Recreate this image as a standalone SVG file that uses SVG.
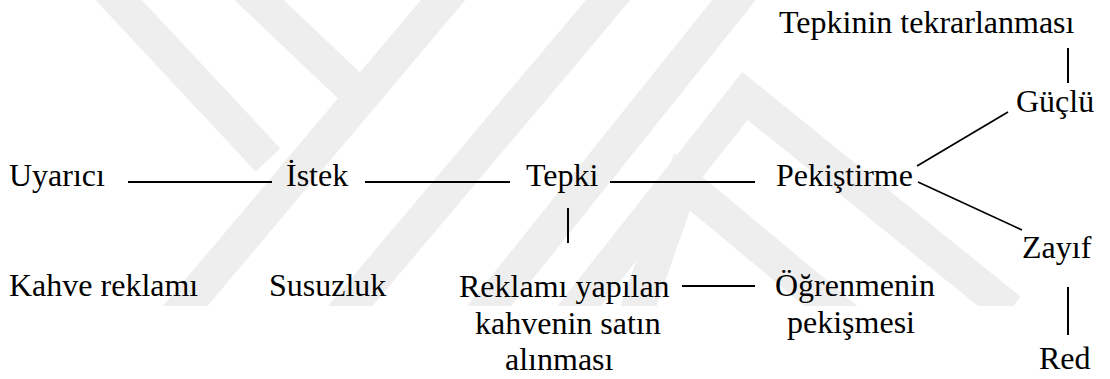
<svg xmlns="http://www.w3.org/2000/svg" width="1110" height="379" viewBox="0 0 1110 379">
  <style>
    text { font-family: 'Liberation Serif', 'Times New Roman', Times, serif; font-size: 32px; fill: #000; }
    .link { stroke: #000; stroke-width: 2; fill: none; }
    .diag { stroke: #000; stroke-width: 1.7; fill: none; }
    .band { stroke: #eeeeee; stroke-width: 34; fill: none; stroke-linejoin: miter; }
  </style>
  <defs>
    <clipPath id="wmClip">
      <rect x="0" y="0" width="1110" height="306"/>
    </clipPath>
  </defs>
  <rect width="1110" height="379" fill="#fff"/>

  <!-- background emblem -->
  <g id="emblem" clip-path="url(#wmClip)">
    <line class="band" x1="100" y1="-20" x2="268" y2="160"/>
    <line class="band" x1="165" y1="330" x2="460" y2="-20"/>
    <line class="band" x1="238" y1="-20" x2="358" y2="94"/>
    <line class="band" x1="330" y1="330" x2="625" y2="-20"/>
    <line class="band" x1="470" y1="330" x2="750" y2="-20"/>
    <polyline class="band" points="560,330 745,96 1010,310"/>
    <polyline class="band" points="630,330 682,182 860,330"/>
  </g>

  <!-- connectors -->
  <g id="connectors">
    <line class="link" x1="128" y1="182" x2="272" y2="182"/>
    <line class="link" x1="365" y1="182" x2="510" y2="182"/>
    <line class="link" x1="610" y1="182" x2="755" y2="182"/>
    <line class="link" x1="568" y1="208" x2="568" y2="243"/>
    <line class="link" x1="682" y1="286" x2="755" y2="286"/>
    <line class="diag" x1="917" y1="166" x2="1008" y2="112"/>
    <line class="diag" x1="918" y1="182" x2="1022" y2="230"/>
    <line class="link" x1="1068" y1="48" x2="1068" y2="83"/>
    <line class="link" x1="1068" y1="287" x2="1068" y2="335"/>
  </g>

  <g font-family="Liberation Serif, serif">
    <g id="uyarici"><text x="9" y="186">Uyarıcı</text></g>
    <g id="istek"><text x="286" y="186">İstek</text></g>
    <g id="tepki"><text x="526" y="186">Tepki</text></g>
    <g id="pekistirme"><text x="776" y="186">Pekiştirme</text></g>
    <g id="tekrar"><text x="779" y="33">Tepkinin tekrarlanması</text></g>
    <g id="guclu"><text x="1016" y="112">Güçlü</text></g>
    <g id="zayif"><text x="1022" y="258">Zayıf</text></g>
    <g id="red"><text x="1039" y="369">Red</text></g>
    <g id="kahve"><text x="9" y="296">Kahve reklamı</text></g>
    <g id="susuzluk"><text x="269" y="296">Susuzluk</text></g>
    <g id="satin">
      <text x="459" y="297">Reklamı yapılan</text>
      <text x="475" y="334">kahvenin satın</text>
      <text x="505" y="370">alınması</text>
    </g>
    <g id="ogrenme">
      <text x="775" y="296">Öğrenmenin</text>
      <text x="787" y="333">pekişmesi</text>
    </g>
  </g>
</svg>
